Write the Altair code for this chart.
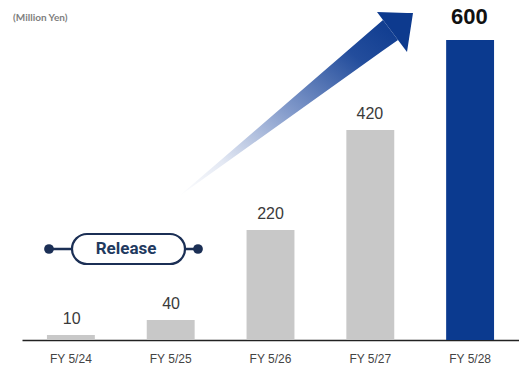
import altair as alt
import pandas as pd

categories = ["FY 5/24", "FY 5/25", "FY 5/26", "FY 5/27", "FY 5/28"]
values = [10, 40, 220, 420, 600]
bar_colors = ["#c8c8c8", "#c8c8c8", "#c8c8c8", "#c8c8c8", "#0b3a8f"]
unit_label = "(Million Yen)"
release_label = "Release"

# growth arrow outline, in chart units (category index, value)
shaft_pos = [1.06, 3.11, 3.26]
shaft_top = [286, 640, 600]
shaft_bottom = [286, 579, 600]
head_pos = [3.05, 3.35, 3.41]
head_top = [656, 654, 654]
head_bottom = [656, 576, 654]

df = pd.DataFrame({"fy": categories, "value": values, "color": bar_colors})
shaft_df = pd.DataFrame({"pos": shaft_pos, "value": shaft_top, "value2": shaft_bottom})
head_df = pd.DataFrame({"pos": head_pos, "value": head_top, "value2": head_bottom})
one = pd.DataFrame({"k": [0]})

NAVY = "#1b2f55"
yscale = alt.Scale(domain=[0, 680], nice=False, zero=True)
xband = alt.Scale(domain=categories, paddingInner=0.52, paddingOuter=0.25)
y = alt.Y("value:Q", scale=yscale, axis=None)

bars = alt.Chart(df).mark_bar().encode(
    x=alt.X("fy:N", sort=categories, scale=xband,
            axis=alt.Axis(title=None, labelAngle=0, labelFont="Liberation Sans",
                          labelFontSize=12, labelColor="#444", labelPadding=13,
                          ticks=False, domainColor="#222", domainWidth=1.3)),
    y=y,
    color=alt.Color("color:N", scale=None),
)

xl = alt.X("fy:N", sort=categories, scale=xband, axis=None)
labels = alt.Chart(df).transform_filter("datum.value < 600").mark_text(
    dy=-11, fontSize=16, font="Liberation Sans", color="#3a3a3a", baseline="alphabetic"
).encode(x=xl, y=y, text="value:Q")

top_label = alt.Chart(df).transform_filter("datum.value >= 600").mark_text(
    dy=-16, fontSize=22, font="Liberation Sans", fontWeight="bold", color="#111111",
    baseline="alphabetic"
).encode(x=xl, y=y, text="value:Q")

xq = alt.X("pos:Q", scale=alt.Scale(domain=[-0.5, 4.47], nice=False, zero=False), axis=None)
grad = alt.Gradient(
    gradient="linear",
    stops=[
        alt.GradientStop(color="#ffffff", offset=0),
        alt.GradientStop(color="#e3e8f3", offset=0.2),
        alt.GradientStop(color="#8199ca", offset=0.5),
        alt.GradientStop(color="#234d9c", offset=0.8),
        alt.GradientStop(color="#0d3a8e", offset=1),
    ],
    x1=0, y1=1, x2=1, y2=0,
)
shaft = alt.Chart(shaft_df).mark_area(color=grad).encode(x=xq, y=y, y2="value2:Q")
head = alt.Chart(head_df).mark_area(color="#0d3a8e").encode(x=xq, y=y, y2="value2:Q")

rule = alt.Chart(one).mark_rule(color=NAVY, strokeWidth=2.5).encode(
    x=alt.value(27), x2=alt.value(176), y=alt.value(249))
dot1 = alt.Chart(one).mark_circle(size=95, color=NAVY, opacity=1).encode(
    x=alt.value(27), y=alt.value(249))
dot2 = alt.Chart(one).mark_circle(size=95, color=NAVY, opacity=1).encode(
    x=alt.value(176), y=alt.value(249))
pill = alt.Chart(one).mark_rect(cornerRadius=15, fill="white", stroke=NAVY, strokeWidth=2.2).encode(
    x=alt.value(50), x2=alt.value(163), y=alt.value(234), y2=alt.value(264))
pill_text = alt.Chart(one).mark_text(
    font="Roboto", fontWeight="bold", fontSize=17, color="#1f3a5f", baseline="middle", align="center"
).encode(x=alt.value(104), y=alt.value(249), text=alt.value(release_label))
unit = alt.Chart(one).mark_text(
    font="Lato", fontWeight="bold", fontSize=10, color="#808080", align="left", baseline="alphabetic"
).encode(x=alt.value(-9), y=alt.value(21), text=alt.value(unit_label))

chart = alt.layer(
    shaft, head, bars, labels, top_label, rule, dot1, dot2, pill, pill_text, unit
).resolve_scale(x="independent").properties(
    width=497, height=340,
    padding={"left": 22, "top": 0, "right": 0, "bottom": 26},
    autosize=alt.AutoSizeParams(type="none"),
).configure_view(stroke=None)

chart.save("out.html", embed_options={"renderer": "svg", "actions": False})
